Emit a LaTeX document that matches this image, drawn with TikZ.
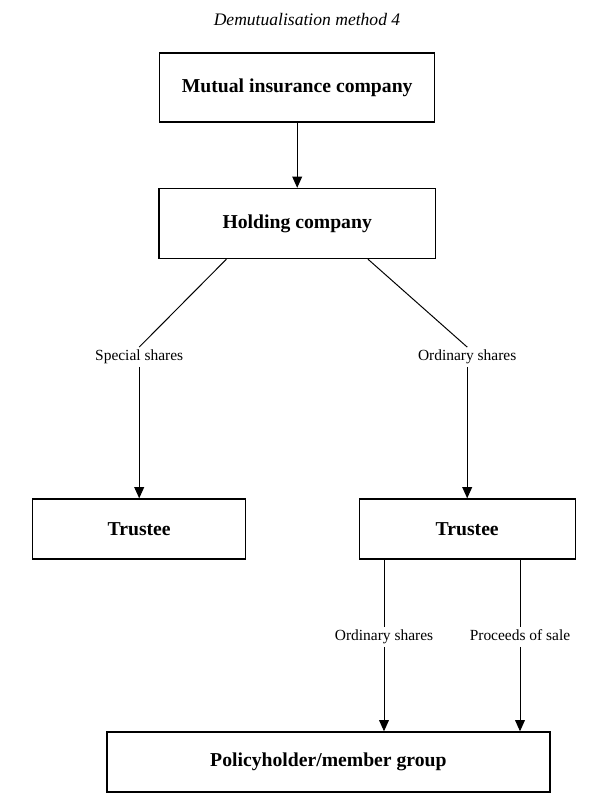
\documentclass[tikz,border=0pt]{standalone}
\usepackage{fontspec}
\setmainfont{Liberation Serif}
\usetikzlibrary{arrows.meta,positioning}
\tikzset{box node/.style={rectangle,draw,line width=1pt,font=\fontsize{14}{16}\selectfont\bfseries,minimum height=1.5cm,inner sep=0pt},
}

\begin{document}
\begin{tikzpicture}[->,>={Triangle[length=8pt,width=7pt]},line width=0.7pt,
		share label/.style={font=\fontsize{11}{13}\selectfont,inner sep=2pt,text height=1.6ex,text depth=.45ex}]
		\useasboundingbox (0,0) rectangle (15,-20);
		
		\node[font=\fontsize{12.5}{15}\selectfont\itshape] (title) at (7.675,-0.5) {Demutualisation method 4};
		
		\node[box node, minimum width=6.875cm, minimum height=1.725cm] (mutual) at (7.43,-2.19) {Mutual insurance company};
		\node[box node, minimum width=6.9cm, minimum height=1.75cm] (holding) [below=1.625cm of mutual] {Holding company};
		\node[box node, minimum width=5.325cm] (ltrustee) at (3.48,-13.225) {Trustee};
		\node[box node, minimum width=5.4cm] (rtrustee) at (11.68,-13.225) {Trustee};
		\node[box node, minimum width=11.075cm] (policy) at (8.21,-19.05) {Policyholder/member group};
		
		\node[share label] (special) at (3.48,-8.925) {Special shares};
		\node[share label] (ordinary) at (11.68,-8.925) {Ordinary shares};
		\node[share label] (ordinary2) at (9.6,-15.925) {Ordinary shares};
		\node[share label] (proceeds) at (13.0,-15.925) {Proceeds of sale};
		
		\draw (mutual) -- (holding);
		\draw[-] ([xshift=-1.77cm]holding.south) -- (special.north);
		\draw[-] ([xshift=1.77cm]holding.south) -- (ordinary.north);
		\draw (special.south) -- (ltrustee.north);
		\draw (ordinary.south) -- (rtrustee.north);
		\draw[-] (ordinary2.north |- rtrustee.south) -- (ordinary2.north);
		\draw[-] (proceeds.north |- rtrustee.south) -- (proceeds.north);
		\draw (ordinary2.south) -- (ordinary2.south |- policy.north);
		\draw (proceeds.south) -- (proceeds.south |- policy.north);
\end{tikzpicture}
\end{document}
